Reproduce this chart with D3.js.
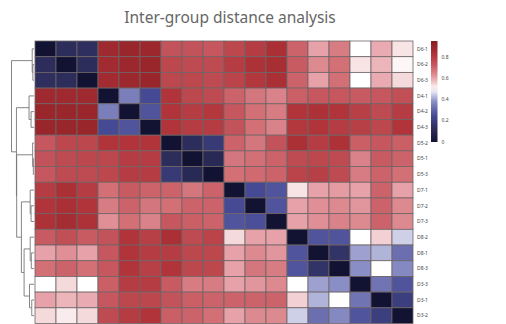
<!DOCTYPE html>
<html>
<head>
<meta charset="utf-8">
<script src="https://cdn.jsdelivr.net/npm/d3@7"></script>
<style>
  body { margin: 0; background: #fff; }
  svg { display: block; font-family: "Noto Sans", "DejaVu Sans", sans-serif; }
</style>
</head>
<body>
<svg id="chart" width="506" height="324"></svg>
<script>
// sample order (rows and columns share the same order)
const samples = ["D6-1","D6-2","D6-3","D4-1","D4-2","D4-3","D5-2","D5-1","D5-3",
                 "D7-1","D7-2","D7-3","D8-2","D8-1","D8-3","D3-3","D3-1","D3-2"];

// distance values, one row per sample
const rowD6_1 = [0,0.12,0.13,0.88,0.9,0.89,0.74,0.74,0.73,0.77,0.8,0.84,0.7,0.6,0.66,0.5,0.59,0.53];
const rowD6_2 = [0.12,0,0.12,0.87,0.89,0.9,0.77,0.76,0.76,0.8,0.83,0.85,0.72,0.64,0.68,0.53,0.58,0.51];
const rowD6_3 = [0.13,0.12,0,0.87,0.89,0.9,0.77,0.77,0.76,0.78,0.81,0.84,0.7,0.6,0.68,0.5,0.59,0.54];
const rowD4_1 = [0.88,0.88,0.88,0,0.35,0.25,0.82,0.77,0.76,0.7,0.67,0.65,0.71,0.73,0.73,0.72,0.73,0.75];
const rowD4_2 = [0.9,0.9,0.9,0.35,0,0.27,0.82,0.8,0.81,0.73,0.68,0.66,0.82,0.83,0.82,0.79,0.76,0.8];
const rowD4_3 = [0.9,0.9,0.9,0.25,0.27,0,0.82,0.8,0.8,0.74,0.68,0.65,0.81,0.82,0.8,0.79,0.77,0.82];
const rowD5_2 = [0.73,0.77,0.77,0.82,0.82,0.82,0,0.12,0.18,0.7,0.67,0.74,0.84,0.8,0.83,0.71,0.73,0.71];
const rowD5_1 = [0.74,0.76,0.77,0.77,0.8,0.8,0.12,0,0.1,0.67,0.68,0.7,0.76,0.77,0.76,0.65,0.72,0.7];
const rowD5_3 = [0.73,0.76,0.76,0.77,0.8,0.8,0.18,0.1,0,0.68,0.69,0.7,0.78,0.79,0.76,0.66,0.7,0.68];
const rowD7_1 = [0.8,0.84,0.8,0.68,0.72,0.7,0.7,0.67,0.7,0,0.25,0.27,0.53,0.6,0.61,0.6,0.7,0.6];
const rowD7_2 = [0.82,0.84,0.82,0.66,0.7,0.67,0.68,0.7,0.7,0.25,0,0.27,0.6,0.63,0.64,0.62,0.7,0.64];
const rowD7_3 = [0.83,0.86,0.83,0.63,0.68,0.65,0.73,0.71,0.7,0.27,0.26,0,0.6,0.63,0.65,0.64,0.7,0.64];
const rowD8_2 = [0.72,0.75,0.72,0.74,0.82,0.79,0.84,0.76,0.78,0.54,0.6,0.6,0,0.27,0.27,0.5,0.55,0.45];
const rowD8_1 = [0.6,0.63,0.6,0.73,0.82,0.8,0.8,0.77,0.77,0.6,0.64,0.62,0.27,0,0.15,0.4,0.42,0.32];
const rowD8_3 = [0.68,0.7,0.68,0.73,0.82,0.79,0.82,0.77,0.77,0.6,0.67,0.66,0.27,0.15,0,0.38,0.5,0.37];
const rowD3_3 = [0.5,0.54,0.5,0.71,0.8,0.8,0.72,0.66,0.66,0.6,0.62,0.64,0.5,0.4,0.38,0,0.33,0.27];
const rowD3_1 = [0.6,0.58,0.59,0.73,0.77,0.77,0.74,0.71,0.7,0.7,0.7,0.7,0.55,0.42,0.5,0.33,0,0.2];
const rowD3_2 = [0.54,0.52,0.54,0.76,0.8,0.82,0.71,0.7,0.68,0.6,0.64,0.64,0.45,0.32,0.37,0.27,0.2,0];

const matrix = [rowD6_1,rowD6_2,rowD6_3,rowD4_1,rowD4_2,rowD4_3,rowD5_2,rowD5_1,rowD5_3,
                rowD7_1,rowD7_2,rowD7_3,rowD8_2,rowD8_1,rowD8_3,rowD3_3,rowD3_1,rowD3_2];

// row clustering: [left, right, merge height]
const tree = [
  ["D6-1", ["D6-2", "D6-3", 0.05], 0.08],
  [
    [["D4-1", ["D4-2", "D4-3", 0.13], 0.22]],
    [
      [["D5-2", ["D5-1", "D5-3", 0.03], 0.06]],
      [
        [["D7-1", ["D7-2", "D7-3", 0.13], 0.17]],
        [
          [["D8-2", ["D8-1", "D8-3", 0.12], 0.17]],
          [["D3-3", ["D3-1", "D3-2", 0.1], 0.2]],
          0.44
        ],
        0.56
      ],
      0.77
    ],
    0.78
  ],
  1.0
];

const legendTicks = [0, 0.2, 0.4, 0.6, 0.8];
const legendMax = 0.95;
const title = "Inter-group distance analysis";

const svg = d3.select("#chart");
const hmLeft = 35, hmRight = 413, hmTop = 41, hmBottom = 323.5;

const x = d3.scaleBand().domain(samples).range([hmLeft, hmRight]);
const y = d3.scaleBand().domain(samples).range([hmTop, hmBottom]);

const color = d3.scaleLinear()
  .domain([0, 0.12, 0.25, 0.38, 0.5, 0.6, 0.7, 0.82, 0.95])
  .range(["#121233","#2c2d5a","#464a95","#8a8ec6","#ffffff","#e6a2a8","#cd636a","#b0343a","#8a1d22"])
  .clamp(true);

// title
svg.append("text")
  .attr("x", 230).attr("y", 23)
  .attr("text-anchor", "middle")
  .attr("font-size", 15.5)
  .attr("fill", "#666")
  .text(title);

// cells
const cells = [];
matrix.forEach((row, i) => row.forEach((v, j) => cells.push({r: samples[i], c: samples[j], v: v})));

svg.append("g").selectAll("rect")
  .data(cells)
  .enter().append("rect")
  .attr("x", d => x(d.c))
  .attr("y", d => y(d.r))
  .attr("width", x.bandwidth())
  .attr("height", y.bandwidth())
  .attr("fill", d => color(d.v))
  .attr("stroke", "#6f6466")
  .attr("stroke-width", 0.8);

// row labels
svg.append("g").selectAll("text")
  .data(samples)
  .enter().append("text")
  .attr("x", hmRight + 4)
  .attr("y", d => y(d) + y.bandwidth() / 2)
  .attr("dy", "0.35em")
  .attr("font-size", 5)
  .attr("fill", "#444")
  .text(d => d);

// dendrogram
const hx = d3.scaleLinear().domain([0, 1]).range([34, 11.5]);
const dend = svg.append("g")
  .attr("fill", "none")
  .attr("stroke", "#777")
  .attr("stroke-width", 0.9);

function drawNode(node) {
  // a wrapped single cluster
  if (Array.isArray(node) && node.length === 1) return drawNode(node[0]);
  if (typeof node === "string") {
    return {y: y(node) + y.bandwidth() / 2, x: hx(0)};
  }
  const a = drawNode(node[0]);
  const b = drawNode(node[1]);
  const xm = hx(node[2]);
  dend.append("path")
    .attr("d", `M${a.x},${a.y}H${xm}V${b.y}H${b.x}`);
  return {y: (a.y + b.y) / 2, x: xm};
}
drawNode(tree);

// colour legend
const lx = 431, lw = 6.5, ltop = 41, lbottom = 142;
const ly = d3.scaleLinear().domain([0, legendMax]).range([lbottom, ltop]);

const grad = svg.append("defs").append("linearGradient")
  .attr("id", "legendGrad")
  .attr("x1", 0).attr("y1", 1).attr("x2", 0).attr("y2", 0);
d3.range(0, 21).forEach(k => {
  const v = legendMax * k / 20;
  grad.append("stop")
    .attr("offset", (k / 20 * 100) + "%")
    .attr("stop-color", color(v));
});

svg.append("rect")
  .attr("x", lx).attr("y", ltop)
  .attr("width", lw).attr("height", lbottom - ltop)
  .attr("fill", "url(#legendGrad)");

svg.append("g").selectAll("text")
  .data(legendTicks)
  .enter().append("text")
  .attr("x", lx + lw + 4)
  .attr("y", d => ly(d))
  .attr("dy", "0.35em")
  .attr("font-size", 5)
  .attr("fill", "#444")
  .text(d => d);
</script>
</body>
</html>
